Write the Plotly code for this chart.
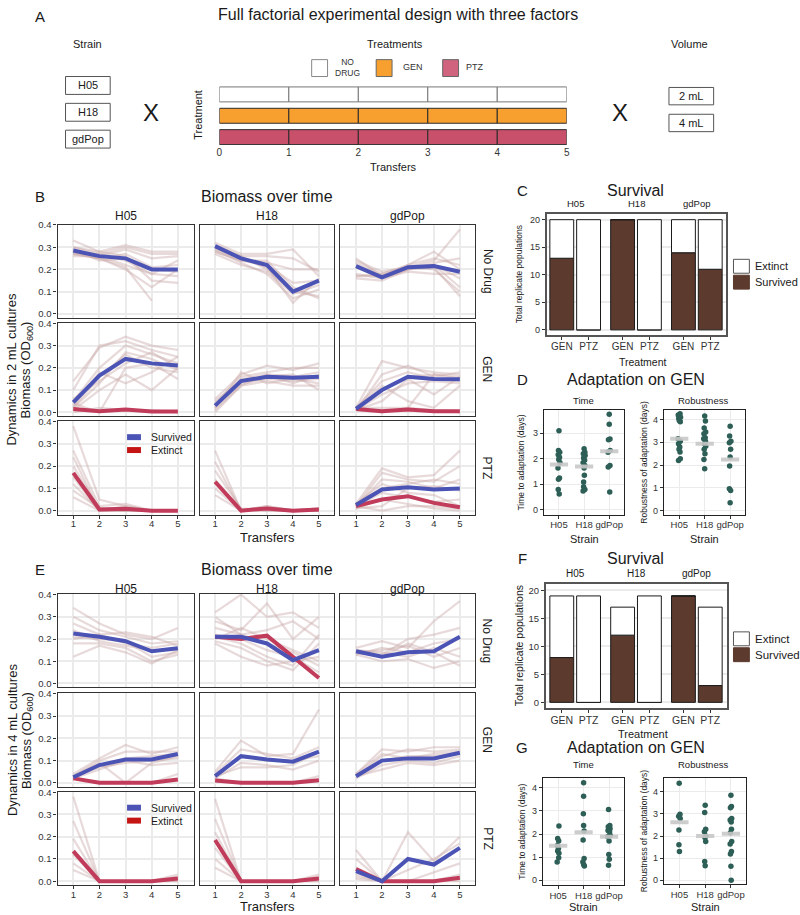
import plotly.graph_objects as go

FONT = "Arial, Liberation Sans, DejaVu Sans, sans-serif"
W, H = 800, 915

# ---------------- data ----------------
TRANSFERS = [1, 2, 3, 4, 5]
STRAINS = ["H05", "H18", "gdPop"]
TREATMENTS = ["No Drug", "GEN", "PTZ"]

# Panel A
A_TREATMENTS = ["NO DRUG", "GEN", "PTZ"]
A_COLORS = ["#ffffff", "#f7a030", "#c8506a"]
A_TICKS = [0, 1, 2, 3, 4, 5]
VOLUMES = ["2 mL", "4 mL"]

# Panel B (2 mL) replicate lines
B_H05_ND = [[0.33,0.28,0.31,0.28,0.28],[0.30,0.27,0.30,0.27,0.27],[0.28,0.26,0.29,0.25,0.26],
            [0.27,0.25,0.27,0.21,0.22],[0.29,0.24,0.25,0.20,0.19],[0.26,0.26,0.22,0.18,0.17],
            [0.28,0.25,0.20,0.12,0.20],[0.27,0.25,0.21,0.06],[0.30,0.28,0.26,0.15,0.14],
            [0.27,0.27,0.24,0.18,0.24]]
B_H18_ND = [[0.32,0.27,0.27,0.29,0.17],[0.30,0.26,0.26,0.25,0.19],[0.29,0.25,0.23,0.20,0.20],
            [0.28,0.24,0.22,0.14,0.15],[0.31,0.26,0.20,0.10,0.08],[0.29,0.23,0.18,0.07,0.11],
            [0.30,0.25,0.21,0.05,0.16],[0.28,0.24,0.24,0.12,0.07],[0.27,0.22,0.19,0.09,0.13]]
B_GDP_ND = [[0.25,0.17,0.22,0.28,0.20],[0.23,0.18,0.21,0.24,0.38],[0.22,0.17,0.21,0.22,0.16],
            [0.18,0.16,0.20,0.22,0.12],[0.16,0.15,0.20,0.21,0.08],[0.17,0.18,0.22,0.25,0.22],
            [0.21,0.16,0.19,0.18,0.18],[0.24,0.19,0.21,0.20,0.10],[0.17,0.17,0.20,0.23,0.25]]
B_H05_GEN = [[0.14,0.29,0.34,0.30,0.28],[0.10,0.30,0.32,0.28,0.25],[0.05,0.20,0.30,0.26,0.22],
             [0.02,0.13,0.27,0.24,0.19],[0.06,0.14,0.22,0.27,0.20],[0.03,0.18,0.13,0.18,0.25],
             [0.01,0.10,0.17,0.10,0.20],[0.04,0.00,0.20,0.22,0.15],[0.00,0.02,0.01,0.01,0.00],
             [0.02,0.16,0.26,0.20,0.18]]
B_H18_GEN = [[0.06,0.17,0.21,0.19,0.22],[0.04,0.16,0.18,0.20,0.20],[0.03,0.15,0.17,0.16,0.18],
             [0.02,0.13,0.15,0.14,0.15],[0.01,0.12,0.14,0.12,0.12],[0.05,0.14,0.16,0.17,0.10],
             [0.02,0.18,0.13,0.15,0.13],[0.00,0.12,0.17,0.13,0.17]]
B_GDP_GEN = [[0.02,0.23,0.20,0.18,0.17],[0.01,0.17,0.21,0.16,0.18],[0.02,0.14,0.18,0.15,0.14],
             [0.01,0.10,0.16,0.17,0.15],[0.01,0.05,0.15,0.08,0.16],[0.02,0.02,0.02,0.17,0.16],
             [0.01,0.08,0.13,0.14,0.13],[0.01,0.00,0.02,0.01,0.00],[0.02,0.12,0.05,0.02,0.12]]
B_H05_PTZ = [[0.38,0.05,0.02,0.00,0.00],[0.27,0.02,0.03,0.00,0.00],[0.24,0.00,0.00,0.00,0.00],
             [0.20,0.01,0.01,0.00,0.00],[0.15,0.00,0.02,0.00,0.00],[0.12,0.00,0.00,0.00,0.00],
             [0.09,0.01,0.00,0.00,0.00],[0.06,0.00,0.00,0.00,0.00]]
B_H18_PTZ = [[0.27,0.00,0.02,0.00,0.01],[0.22,0.00,0.01,0.00,0.00],[0.18,0.01,0.00,0.00,0.01],
             [0.14,0.00,0.02,0.00,0.00],[0.10,0.00,0.00,0.00,0.00],[0.07,0.00,0.01,0.00,0.00]]
B_GDP_PTZ = [[0.03,0.19,0.15,0.16,0.27],[0.02,0.17,0.14,0.13,0.20],[0.02,0.14,0.13,0.10,0.14],
             [0.03,0.10,0.12,0.14,0.12],[0.02,0.08,0.06,0.04,0.05],[0.01,0.05,0.03,0.01,0.00],
             [0.02,0.00,0.02,0.02,0.01],[0.03,0.12,0.08,0.07,0.02],[0.01,0.02,0.10,0.11,0.09]]

# Panel B mean lines (Survived / Extinct)
B_H05_ND_SURV = [0.285, 0.26, 0.25, 0.20, 0.20]
B_H18_ND_SURV = [0.305, 0.25, 0.22, 0.10, 0.15]
B_GDP_ND_SURV = [0.215, 0.165, 0.21, 0.215, 0.19]
B_H05_GEN_SURV = [0.045, 0.165, 0.24, 0.22, 0.21]
B_H05_GEN_EXT = [0.015, 0.005, 0.012, 0.003, 0.003]
B_H18_GEN_SURV = [0.03, 0.14, 0.16, 0.155, 0.16]
B_GDP_GEN_SURV = [0.015, 0.10, 0.16, 0.15, 0.148]
B_GDP_GEN_EXT = [0.015, 0.005, 0.012, 0.005, 0.005]
B_H05_PTZ_EXT = [0.17, 0.005, 0.008, 0.0, 0.0]
B_H18_PTZ_EXT = [0.13, 0.0, 0.01, 0.0, 0.005]
B_GDP_PTZ_SURV = [0.025, 0.095, 0.105, 0.095, 0.10]
B_GDP_PTZ_EXT = [0.02, 0.05, 0.065, 0.035, 0.015]

# Panel E (4 mL) replicate lines
E_H05_ND = [[0.34,0.27,0.22,0.20,0.25],[0.30,0.24,0.21,0.18,0.19],[0.27,0.22,0.23,0.21,0.17],
            [0.24,0.19,0.17,0.15,0.15],[0.21,0.20,0.19,0.12,0.14],[0.18,0.18,0.16,0.10,0.13],
            [0.12,0.17,0.14,0.09,0.15],[0.20,0.22,0.18,0.16,0.18]]
E_H18_ND = [[0.32,0.40,0.30,0.32,0.25],[0.28,0.24,0.36,0.20,0.30],[0.25,0.22,0.24,0.28,0.20],
            [0.21,0.18,0.12,0.08,0.22],[0.19,0.16,0.10,0.06,0.18],[0.22,0.20,0.15,0.12,0.05],
            [0.18,0.12,0.08,0.10,0.12],[0.20,0.25,0.20,0.15,0.10],[0.30,0.22,0.18,0.14,0.08]]
E_GDP_ND = [[0.16,0.19,0.16,0.28,0.37],[0.15,0.13,0.20,0.22,0.25],[0.14,0.15,0.17,0.12,0.16],
            [0.13,0.10,0.11,0.07,0.10],[0.15,0.14,0.12,0.16,0.12],[0.14,0.12,0.18,0.14,0.08],
            [0.13,0.16,0.14,0.18,0.20]]
E_H05_GEN = [[0.04,0.11,0.17,0.13,0.16],[0.03,0.10,0.14,0.14,0.14],[0.02,0.08,0.11,0.12,0.13],
             [0.03,0.07,0.09,0.10,0.11],[0.02,0.06,0.10,0.08,0.09],[0.03,0.09,0.00,0.09,0.12],
             [0.02,0.00,0.00,0.00,0.04]]
E_H18_GEN = [[0.05,0.19,0.12,0.13,0.33],[0.04,0.15,0.13,0.11,0.16],[0.03,0.12,0.10,0.10,0.12],
             [0.02,0.09,0.08,0.06,0.10],[0.03,0.07,0.07,0.08,0.14],[0.02,0.00,0.00,0.00,0.03]]
E_GDP_GEN = [[0.04,0.15,0.14,0.16,0.16],[0.03,0.12,0.15,0.14,0.15],[0.03,0.10,0.12,0.12,0.13],
             [0.02,0.08,0.10,0.09,0.12],[0.03,0.06,0.09,0.08,0.10],[0.04,0.13,0.11,0.13,0.14]]
E_H05_PTZ = [[0.38,0.00,0.00,0.00,0.03],[0.27,0.00,0.00,0.00,0.01],[0.19,0.00,0.00,0.00,0.00],
             [0.12,0.00,0.00,0.00,0.02],[0.08,0.00,0.00,0.00,0.00],[0.05,0.00,0.00,0.00,0.01]]
E_H18_PTZ = [[0.37,0.00,0.00,0.00,0.03],[0.28,0.00,0.00,0.00,0.01],[0.22,0.00,0.00,0.00,0.00],
             [0.15,0.00,0.00,0.00,0.02],[0.10,0.00,0.00,0.00,0.00],[0.06,0.00,0.00,0.00,0.01]]
E_GDP_PTZ = [[0.14,0.00,0.22,0.09,0.20],[0.10,0.00,0.10,0.07,0.15],[0.06,0.00,0.05,0.10,0.17],
             [0.03,0.00,0.00,0.04,0.08],[0.02,0.00,0.00,0.00,0.03],[0.01,0.00,0.00,0.00,0.00]]

# Panel E mean lines
E_H05_ND_SURV = [0.225, 0.21, 0.19, 0.145, 0.158]
E_H18_ND_SURV = [0.21, 0.21, 0.18, 0.105, 0.15]
E_H18_ND_EXT = [0.21, 0.20, 0.215, 0.12, 0.025]
E_GDP_ND_SURV = [0.145, 0.12, 0.14, 0.145, 0.21]
E_H05_GEN_SURV = [0.025, 0.08, 0.105, 0.105, 0.13]
E_H05_GEN_EXT = [0.02, 0.0, 0.0, 0.0, 0.015]
E_H18_GEN_SURV = [0.03, 0.12, 0.105, 0.095, 0.14]
E_H18_GEN_EXT = [0.01, 0.0, 0.0, 0.0, 0.012]
E_GDP_GEN_SURV = [0.03, 0.10, 0.11, 0.11, 0.135]
E_H05_PTZ_EXT = [0.135, 0.0, 0.0, 0.0, 0.012]
E_H18_PTZ_EXT = [0.185, 0.0, 0.0, 0.0, 0.012]
E_GDP_PTZ_SURV = [0.045, 0.0, 0.10, 0.075, 0.15]
E_GDP_PTZ_EXT = [0.055, 0.0, 0.0, 0.0, 0.015]

# Panels C / F : survival counts
SURV_TREATS = ["GEN", "PTZ"]
C_SURVIVED = [13, 0, 20, 0, 14, 11]
C_TOTAL = [20, 20, 20, 20, 20, 20]
F_SURVIVED = [8, 0, 12, 0, 19, 3]
F_TOTAL = [19, 19, 17, 19, 19, 17]

# Panels D / G : adaptation
D_TIME = [[3.10, 2.32, 2.26, 2.16, 2.06, 1.97, 1.84, 1.64, 1.25, 1.20, 0.80, 0.62],
          [2.39, 2.26, 2.20, 2.13, 2.03, 1.94, 1.84, 1.74, 1.64, 1.35, 1.09, 0.90, 0.80, 0.74],
          [3.75, 3.35, 2.78, 2.75, 2.32, 2.26, 1.74, 1.68, 0.70]]
D_TIME_JIT = [[0.00, -0.02, 0.03, -0.03, 0.02, -0.01, 0.04, -0.04, 0.02, -0.02, -0.03, 0.01],
              [0.00, 0.03, -0.03, 0.04, -0.02, 0.02, -0.04, 0.03, 0.00, 0.01, -0.02, -0.02, 0.03, -0.04],
              [0.00, 0.00, 0.03, -0.03, 0.04, -0.05, 0.03, -0.04, 0.02]]
D_TIME_MED = [1.78, 1.70, 2.30]
D_ROB = [[4.25, 4.20, 4.10, 4.05, 3.95, 3.90, 3.15, 3.04, 2.93, 2.79, 2.69, 2.57, 2.28, 2.20],
         [4.15, 3.93, 3.62, 3.45, 3.37, 3.20, 3.15, 3.05, 2.93, 2.83, 2.69, 2.50, 2.25, 1.84],
         [3.70, 3.27, 3.05, 2.98, 2.69, 2.35, 1.96, 0.96, 0.89, 0.35]]
D_ROB_JIT = [[0.03, -0.04, 0.05, -0.02, 0.00, 0.04, -0.05, 0.04, -0.03, 0.02, -0.01, 0.03, 0.04, -0.03],
             [0.00, 0.03, -0.02, 0.04, -0.03, 0.02, -0.04, 0.03, -0.01, 0.04, -0.02, 0.01, -0.03, 0.00],
             [0.00, -0.02, 0.03, -0.03, 0.02, 0.00, -0.02, -0.03, 0.02, 0.00]]
D_ROB_MED = [3.15, 2.93, 2.25]

G_TIME = [[2.35, 1.81, 1.70, 1.51, 1.38, 1.27, 1.17, 0.98, 0.79],
          [4.22, 3.64, 2.88, 2.37, 2.13, 1.74, 0.94, 0.79, 0.69, 0.62],
          [3.06, 2.37, 2.32, 2.23, 2.16, 2.09, 1.94, 1.88, 1.70, 1.12, 0.91, 0.65]]
G_TIME_JIT = [[0.03, -0.02, 0.02, -0.03, 0.01, -0.02, 0.03, 0.02, -0.04],
              [0.00, 0.00, -0.01, 0.00, 0.02, -0.02, 0.02, -0.03, 0.00, 0.03],
              [-0.02, 0.03, -0.03, 0.04, -0.04, 0.02, 0.05, -0.05, 0.00, -0.01, 0.01, -0.02]]
G_TIME_MED = [1.50, 2.08, 1.88]
G_ROB = [[4.39, 2.99, 2.90, 2.79, 2.27, 1.60, 1.30],
         [3.39, 3.06, 2.31, 2.19, 2.00, 1.93, 1.75, 0.85, 0.66],
         [3.84, 3.34, 3.28, 2.79, 2.72, 2.64, 2.31, 2.15, 1.75, 1.64, 1.30, 1.19, 0.63, 0.00]]
G_ROB_JIT = [[-0.01, 0.02, -0.03, 0.03, -0.02, -0.02, 0.00],
             [0.00, -0.02, 0.02, -0.03, 0.03, -0.01, 0.02, -0.02, 0.00],
             [0.00, 0.02, -0.02, 0.03, -0.03, 0.01, 0.02, -0.02, 0.03, -0.03, 0.02, -0.02, 0.00, 0.01]]
G_ROB_MED = [2.62, 2.00, 2.10]

# ---------------- assemble lookup tables ----------------
B_REPS = {("H05", "No Drug"): B_H05_ND, ("H18", "No Drug"): B_H18_ND, ("gdPop", "No Drug"): B_GDP_ND,
          ("H05", "GEN"): B_H05_GEN, ("H18", "GEN"): B_H18_GEN, ("gdPop", "GEN"): B_GDP_GEN,
          ("H05", "PTZ"): B_H05_PTZ, ("H18", "PTZ"): B_H18_PTZ, ("gdPop", "PTZ"): B_GDP_PTZ}
B_SURV = {("H05", "No Drug"): B_H05_ND_SURV, ("H18", "No Drug"): B_H18_ND_SURV, ("gdPop", "No Drug"): B_GDP_ND_SURV,
          ("H05", "GEN"): B_H05_GEN_SURV, ("H18", "GEN"): B_H18_GEN_SURV, ("gdPop", "GEN"): B_GDP_GEN_SURV,
          ("gdPop", "PTZ"): B_GDP_PTZ_SURV}
B_EXT = {("H05", "GEN"): B_H05_GEN_EXT, ("gdPop", "GEN"): B_GDP_GEN_EXT,
         ("H05", "PTZ"): B_H05_PTZ_EXT, ("H18", "PTZ"): B_H18_PTZ_EXT, ("gdPop", "PTZ"): B_GDP_PTZ_EXT}
E_REPS = {("H05", "No Drug"): E_H05_ND, ("H18", "No Drug"): E_H18_ND, ("gdPop", "No Drug"): E_GDP_ND,
          ("H05", "GEN"): E_H05_GEN, ("H18", "GEN"): E_H18_GEN, ("gdPop", "GEN"): E_GDP_GEN,
          ("H05", "PTZ"): E_H05_PTZ, ("H18", "PTZ"): E_H18_PTZ, ("gdPop", "PTZ"): E_GDP_PTZ}
E_SURV = {("H05", "No Drug"): E_H05_ND_SURV, ("H18", "No Drug"): E_H18_ND_SURV, ("gdPop", "No Drug"): E_GDP_ND_SURV,
          ("H05", "GEN"): E_H05_GEN_SURV, ("H18", "GEN"): E_H18_GEN_SURV, ("gdPop", "GEN"): E_GDP_GEN_SURV,
          ("gdPop", "PTZ"): E_GDP_PTZ_SURV}
E_EXT = {("H18", "No Drug"): E_H18_ND_EXT, ("H05", "GEN"): E_H05_GEN_EXT, ("H18", "GEN"): E_H18_GEN_EXT,
         ("H05", "PTZ"): E_H05_PTZ_EXT, ("H18", "PTZ"): E_H18_PTZ_EXT, ("gdPop", "PTZ"): E_GDP_PTZ_EXT}

# ---------------- styles ----------------
REP_COLOR = "rgba(200,168,168,0.42)"
BLUE = "#4b54b5"
RED = "#c13b5b"
LEG_RED = "#c41414"
BROWN = "#5c3a2e"
TEAL = "#2e5f57"
TXT = "#1a1a1a"
TICK = "#333333"

traces, shapes, annotations = [], [], []
layout = {}
_n = [0]


def new_axes(x0, x1, y0, y1, xkw, ykw):
    _n[0] += 1
    s = "" if _n[0] == 1 else str(_n[0])
    layout["xaxis" + s] = dict(domain=[x0 / W, x1 / W], anchor="y" + s, fixedrange=True, **xkw)
    layout["yaxis" + s] = dict(domain=[1 - y1 / H, 1 - y0 / H], anchor="x" + s, fixedrange=True, **ykw)
    return "x" + s, "y" + s


def ann(text, x, y, size, color=TXT, xanchor="center", yanchor="middle", angle=0):
    annotations.append(dict(text=text, x=x / W, y=1 - y / H, xref="paper", yref="paper",
                            showarrow=False, font=dict(size=size, color=color, family=FONT),
                            xanchor=xanchor, yanchor=yanchor, textangle=angle))


def rect(x0, y0, x1, y1, fill, line, lw=1.0):
    shapes.append(dict(type="rect", xref="paper", yref="paper", x0=x0 / W, x1=x1 / W,
                       y0=1 - y1 / H, y1=1 - y0 / H, fillcolor=fill,
                       line=dict(color=line, width=lw), layer="above"))


# ---------------- Panel A ----------------
ann("A", 37, 12, 15)
ann("Full factorial experimental design with three factors", 398, 10, 16)
ann("Strain", 85, 39, 11)
ann("Treatments", 395, 39, 11)
ann("Volume", 692, 39, 11)
for i, s in enumerate(STRAINS):
    y0 = 72 + i * 27
    rect(63, y0, 108, y0 + 18, "white", "#555555", 1)
    ann(s, 85.5, y0 + 9, 11)
for i, v in enumerate(VOLUMES):
    y0 = 83 + i * 27
    rect(671, y0, 716, y0 + 17.5, "white", "#555555", 1)
    ann(v, 693.5, y0 + 9, 11)
ann("X", 149, 108, 24)
ann("X", 622, 108, 24)
# treatment legend
LEG_X = [311, 376, 443]
for i, (t, c) in enumerate(zip(A_TREATMENTS, A_COLORS)):
    rect(LEG_X[i], 55, LEG_X[i] + 16, 72, c if i != 2 else "#d0647e", "#888888" if i == 0 else "#666666", 1)
ann("NO<br>DRUG", 347, 63, 8.5, color="#333")
ann("GEN", 401, 62, 9, color="#333", xanchor="left")
ann("PTZ", 464, 62, 9, color="#333", xanchor="left")

xa, ya = new_axes(218, 568, 80, 141,
                  dict(range=[0, 5], tickvals=A_TICKS, showgrid=False, zeroline=False, showline=False,
                       ticks="", tickfont=dict(size=10, color=TICK)),
                  dict(range=[-0.372, 2.465], visible=False))
for i, (t, c) in enumerate(zip(A_TREATMENTS, A_COLORS)):
    traces.append(go.Bar(orientation="h", y=[2 - i] * 5, x=[1] * 5, base=A_TICKS[:-1], width=0.7,
                         marker=dict(color=c, line=dict(color="#777777" if i == 0 else "#2a2a2a", width=1)),
                         xaxis=xa, yaxis=ya, showlegend=False, hoverinfo="skip"))
ann("Transfers", 393, 163, 11)
ann("Treatment", 197, 111, 11, angle=-90)

# ---------------- Panels B / E ----------------
COLS_PX = [(55, 192), (198, 334), (340, 476)]
ROWS_B = [(221, 315), (320, 414), (419, 513)]
ROWS_E = [(593, 687), (693, 787), (792, 886)]


def biomass_block(rows, reps, surv, ext, letter, top_y, vol_text, bottom_label_y):
    ann(letter, 37, top_y, 15)
    ann("Biomass over time", 266, top_y, 16)
    for c, strain in enumerate(STRAINS):
        ann(strain, (COLS_PX[c][0] + COLS_PX[c][1]) / 2, top_y + 19.5, 12)
    for r, treat in enumerate(TREATMENTS):
        ann(treat, 488, (rows[r][0] + rows[r][1]) / 2, 12, angle=90)
        for c, strain in enumerate(STRAINS):
            bottom = r == 2
            left = c == 0
            xkw = dict(range=[0.4, 5.6], tickvals=TRANSFERS, showticklabels=bottom,
                       ticks="outside" if bottom else "", ticklen=3, tickcolor=TICK, ticklabelstandoff=-3,
                       tickfont=dict(size=9.5, color=TICK), showgrid=True, gridcolor="#ebebeb",
                       gridwidth=2, zeroline=False, showline=True, mirror=True,
                       linecolor="#333333", linewidth=1.3)
            ykw = dict(range=[-0.018, 0.402], tickvals=[0, 0.1, 0.2, 0.3, 0.4], tickformat=".1f",
                       showticklabels=left, ticks="outside" if left else "", ticklen=3, tickcolor=TICK,
                       tickfont=dict(size=9.5, color=TICK), showgrid=True, gridcolor="#ebebeb",
                       gridwidth=2, zeroline=False, showline=True, mirror=True,
                       linecolor="#333333", linewidth=1.3)
            xa, ya = new_axes(COLS_PX[c][0], COLS_PX[c][1], rows[r][0], rows[r][1], xkw, ykw)
            for rep in reps[(strain, treat)]:
                traces.append(go.Scatter(x=TRANSFERS[:len(rep)], y=rep, mode="lines",
                                         line=dict(color=REP_COLOR, width=2.2), xaxis=xa, yaxis=ya,
                                         showlegend=False, hoverinfo="skip"))
            if (strain, treat) in ext:
                traces.append(go.Scatter(x=TRANSFERS, y=ext[(strain, treat)], mode="lines",
                                         line=dict(color=RED, width=4), xaxis=xa, yaxis=ya,
                                         showlegend=False, name="Extinct"))
            if (strain, treat) in surv:
                traces.append(go.Scatter(x=TRANSFERS, y=surv[(strain, treat)], mode="lines",
                                         line=dict(color=BLUE, width=4), xaxis=xa, yaxis=ya,
                                         showlegend=False, name="Survived"))
    mid = (rows[1][0] + rows[1][1]) / 2
    ann(vol_text, 9, mid, 13, angle=-90)
    ann("Biomass (OD<sub>600</sub>)", 24, mid, 13, angle=-90)
    ann("Transfers", 266, bottom_label_y, 13)
    # legend inside the H05/PTZ panel
    ly = rows[2][0] + 16
    rect(125, ly - 3, 139, ly + 3, BLUE, BLUE, 0)
    rect(125, ly + 10, 139, ly + 16, LEG_RED, LEG_RED, 0)
    ann("Survived", 147, ly, 10.5, xanchor="left")
    ann("Extinct", 147, ly + 13, 10.5, xanchor="left")


biomass_block(ROWS_B, B_REPS, B_SURV, B_EXT, "B", 193, "Dynamics in 2 mL cultures", 536)
biomass_block(ROWS_E, E_REPS, E_SURV, E_EXT, "E", 568, "Dynamics in 4 mL cultures", 907)

# ---------------- Panels C / F ----------------
GROUP_GAP = 2.27
BAR_POS = [s * GROUP_GAP + t for s in range(len(STRAINS)) for t in range(len(SURV_TREATS))]
BAR_LABELS = [t for s in STRAINS for t in SURV_TREATS]


def survival_block(letter, top_y, x0, x1, y0, y1, yr, survived, total, ytitle_size, tick_size,
                   strip_size, leg_y, leg_size, treat_y):
    ann(letter, 523, top_y, 15)
    ann("Survival", 637, top_y, 16)
    xkw = dict(range=[(x0 - 563) / 27, (x1 - 563) / 27], tickvals=BAR_POS, ticktext=BAR_LABELS,
               ticks="outside", ticklen=3, tickcolor=TICK, tickfont=dict(size=tick_size + 1, color=TICK),
               ticklabelstandoff=-2,
               showgrid=False, zeroline=False, showline=True, mirror=True, linecolor="#555555", linewidth=2)
    ykw = dict(range=yr, tickvals=[0, 5, 10, 15, 20], ticks="outside", ticklen=3, tickcolor=TICK,
               tickfont=dict(size=tick_size, color=TICK), showgrid=True, gridcolor="#ebebeb", gridwidth=1.5,
               zeroline=False, showline=True, mirror=True, linecolor="#555555", linewidth=2)
    xa, ya = new_axes(x0, x1, y0, y1, xkw, ykw)
    ext = [t - s for s, t in zip(survived, total)]
    traces.append(go.Bar(x=BAR_POS, y=survived, base=[0] * len(survived), width=0.89, name="Survived",
                         marker=dict(color=BROWN, line=dict(color="#1a1a1a", width=1)),
                         xaxis=xa, yaxis=ya, showlegend=False))
    traces.append(go.Bar(x=BAR_POS, y=ext, base=survived, width=0.89, name="Extinct",
                         marker=dict(color="white", line=dict(color="#1a1a1a", width=1)),
                         xaxis=xa, yaxis=ya, showlegend=False))
    for s_i, s in enumerate(STRAINS):
        annotations.append(dict(text=s, x=s_i * GROUP_GAP + 0.5, xref=xa, y=1 - (y0 - 3) / H, yref="paper",
                                xanchor="center", yanchor="bottom",
                                showarrow=False, font=dict(size=strip_size, color=TXT, family=FONT)))
    ann("Total replicate populations", 520, (y0 + y1) / 2, ytitle_size, angle=-90)
    ann("Treatment", 645, treat_y, strip_size + 1)
    rect(736, leg_y, 752, leg_y + 14, "white", "#555555", 1)
    rect(736, leg_y + 16, 752, leg_y + 30, BROWN, BROWN, 1)
    ann("Extinct", 756, leg_y + 7, leg_size, xanchor="left")
    ann("Survived", 756, leg_y + 23, leg_size, xanchor="left")


survival_block("C", 187, 548, 728, 210, 332, [-0.9, 21.1], C_SURVIVED, C_TOTAL, 8.5, 9, 9.5, 256, 11, 359)
survival_block("F", 557, 547, 729, 583, 708, [-1.07, 21.1], F_SURVIVED, F_TOTAL, 10.5, 9.5, 10, 631, 11.5, 734)

# ---------------- Panels D / G ----------------


def adapt_axes(x0, x1, y0, y1, yr, ymax, ytitle, ytitle_x, strain_y):
    xkw = dict(range=[0.4, 3.6], tickvals=[1, 2, 3], ticktext=STRAINS, ticks="outside", ticklen=3,
               tickcolor=TICK, tickfont=dict(size=9.5, color=TICK), ticklabelstandoff=-2,
               showgrid=True, gridcolor="#ebebeb",
               gridwidth=1, zeroline=False, showline=True, mirror=True, linecolor="#222222", linewidth=1.3)
    ykw = dict(range=yr, tickvals=list(range(ymax + 1)), ticks="outside", ticklen=3, tickcolor=TICK,
               tickfont=dict(size=9, color=TICK), showgrid=True, gridcolor="#ebebeb", gridwidth=1,
               zeroline=False, showline=True, mirror=True, linecolor="#222222", linewidth=1.3)
    xa, ya = new_axes(x0, x1, y0, y1, xkw, ykw)
    ann(ytitle, ytitle_x, (y0 + y1) / 2, 8.5, angle=-90)
    ann("Strain", (x0 + x1) / 2, strain_y, 11)
    return xa, ya


def adapt_points(xa, ya, vals, jits, meds):
    for i in range(len(STRAINS)):
        traces.append(go.Scatter(x=[i + 1 + j for j in jits[i]], y=vals[i], mode="markers",
                                 marker=dict(color=TEAL, size=5.5), xaxis=xa, yaxis=ya,
                                 showlegend=False, name=STRAINS[i]))
    traces.append(go.Scatter(x=[1, 2, 3], y=meds, mode="markers",
                             marker=dict(symbol="line-ew", size=13, color="#c8c8c8",
                                         line=dict(color="rgba(200,200,200,0.9)", width=4)),
                             xaxis=xa, yaxis=ya, showlegend=False, name="median"))


def adapt_block(letter, top_y, sub_y, rows, t_vals, t_jit, t_med, r_vals, r_jit, r_med, t_yr, t_max,
                r_yr, r_max, strain_y):
    ann(letter, 523, top_y, 15)
    ann("Adaptation on GEN", 638, top_y, 16)
    ann("Time", 585, sub_y, 9.5)
    ann("Robustness", 705, sub_y, 9.5)
    (ty0, ty1), (ry0, ry1), (tx0, tx1), (rx0, rx1) = rows
    xa, ya = adapt_axes(tx0, tx1, ty0, ty1, t_yr, t_max, "Time to adaptation (days)", 522, strain_y)
    adapt_points(xa, ya, t_vals, t_jit, t_med)
    xa, ya = adapt_axes(rx0, rx1, ry0, ry1, r_yr, r_max, "Robustness of adaptation (days)", 646, strain_y)
    adapt_points(xa, ya, r_vals, r_jit, r_med)


adapt_block("D", 377, 398, [(408, 513), (408, 513), (545, 626), (666, 748)],
            D_TIME, D_TIME_JIT, D_TIME_MED, D_ROB, D_ROB_JIT, D_ROB_MED,
            [-0.19, 3.9], 3, [-0.17, 4.4], 4, 538)
adapt_block("G", 747, 765, [(778, 886), (778, 885), (544, 626), (666, 749)],
            G_TIME, G_TIME_JIT, G_TIME_MED, G_ROB, G_ROB_JIT, G_ROB_MED,
            [-0.21, 4.43], 4, [-0.18, 4.63], 4, 908)

# ---------------- figure ----------------
fig = go.Figure(data=traces)
fig.update_layout(width=W, height=H, margin=dict(l=0, r=0, t=0, b=0), paper_bgcolor="white",
                  plot_bgcolor="white", barmode="overlay", showlegend=False,
                  font=dict(family=FONT, color=TXT), shapes=shapes, annotations=annotations, **layout)
fig.write_html("out.html")
